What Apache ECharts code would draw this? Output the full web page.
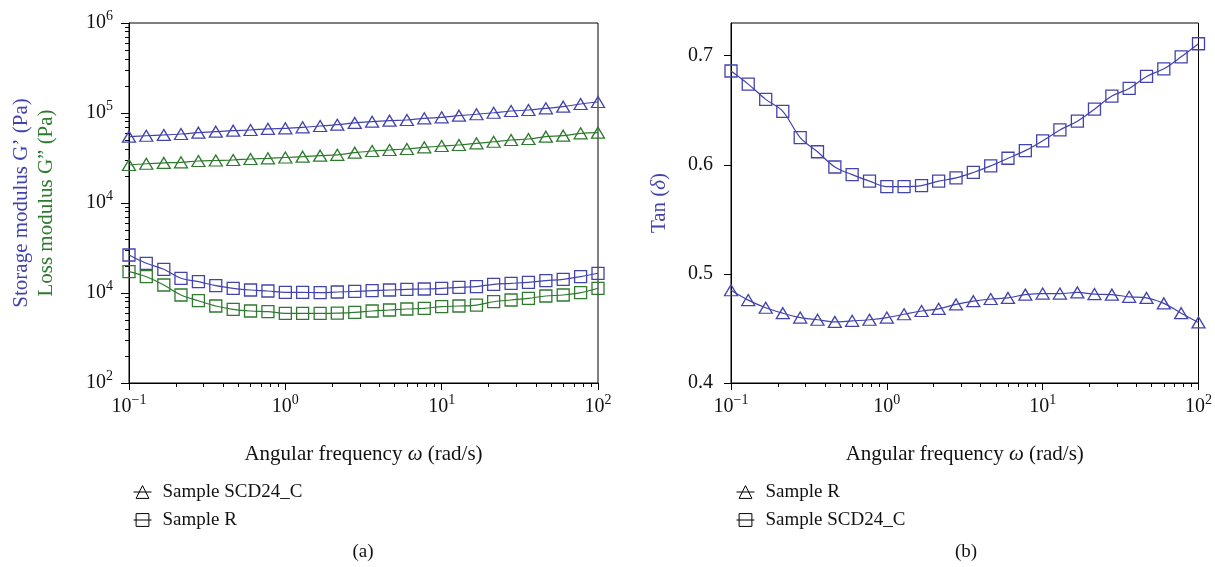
<!DOCTYPE html>
<html>
<head>
<meta charset="utf-8">
<script src="https://cdn.jsdelivr.net/npm/echarts@6/dist/echarts.min.js"></script>
<style>
  html, body { margin: 0; padding: 0; background: #fff; }
  #chart { width: 1215px; height: 567px; }
</style>
</head>
<body>
<div id="chart"></div>
<script>
// Angular frequency sweep (rad/s), 9 points per decade
const freq = [0.1, 0.129, 0.167, 0.215, 0.278, 0.359, 0.464, 0.599, 0.774,
              1.0, 1.29, 1.67, 2.15, 2.78, 3.59, 4.64, 5.99, 7.74,
              10, 12.9, 16.7, 21.5, 27.8, 35.9, 46.4, 59.9, 77.4, 100];

// (a) moduli, Pa
const storageSCD = [54600, 55900, 57000, 58400, 60400, 62000, 63600, 64700, 66700, 67600,
                    69300, 71700, 74100, 77600, 80000, 82100, 83600, 87300, 89600, 93300,
                    96800, 100700, 105200, 108000, 112700, 117500, 125900, 132500];
const lossSCD = [26450, 27280, 27900, 28330, 29290, 29680, 30060, 30840, 31390, 32040,
                 32700, 33550, 34340, 36220, 37840, 38810, 39810, 41570, 42970, 44080,
                 46000, 47950, 50120, 51400, 54550, 55950, 59440, 60400];
const storageR = [2645, 2138, 1834, 1457, 1336, 1205, 1128, 1080, 1053, 1018,
                  1018, 1008, 1026, 1040, 1061, 1080, 1099, 1108, 1128, 1157,
                  1175, 1250, 1282, 1315, 1370, 1420, 1517, 1656];
const lossR = [1725, 1517, 1227, 950, 821, 717, 659, 631, 620, 595,
               595, 595, 599, 610, 631, 647, 664, 676, 705, 717,
               735, 800, 836, 873, 926, 950, 1008, 1128];

// (b) loss factor tan(delta)
const tanR = [0.485, 0.476, 0.469, 0.464, 0.460, 0.458, 0.456, 0.457, 0.458, 0.460,
              0.463, 0.466, 0.468, 0.472, 0.475, 0.477, 0.478, 0.481, 0.482, 0.482,
              0.483, 0.4815, 0.481, 0.479, 0.478, 0.473, 0.464, 0.4555];
const tanSCD = [0.686, 0.674, 0.660, 0.649, 0.625, 0.612, 0.598, 0.591, 0.585, 0.580,
                0.580, 0.581, 0.585, 0.588, 0.593, 0.599, 0.606, 0.613, 0.622, 0.632,
                0.640, 0.651, 0.663, 0.670, 0.681, 0.688, 0.699, 0.711];

// Tick label exponents (base 10)
const xTickExp = ['\u22121', '0', '1', '2'];
const yTickExpA = ['2', '4', '4', '5', '6'];
const yTicksB = ['0.4', '0.5', '0.6', '0.7'];

// Legend entries: series id -> displayed text
const legendText = {
  'scd-a': 'Sample SCD24_C',
  'r-a': 'Sample R',
  'r-b': 'Sample R',
  'scd-b': 'Sample SCD24_C'
};

const BLUE = '#4343ad';
const GREEN = '#2e7a2e';
const FONT = 'Liberation Serif';

const pairs = (xs, ys) => xs.map((x, i) => [x, ys[i]]);

// minor ticks at 2..9 × 10^d, expressed as exponents on a linear overlay axis
function logMinorTicks(lo, hi) {
  const out = [];
  for (let d = lo; d < hi; d++) {
    for (let m = 2; m <= 9; m++) out.push(d + Math.log10(m));
  }
  return out;
}

const powRich = {
  n: { fontFamily: FONT, fontSize: 20, color: '#111' },
  s: { fontFamily: FONT, fontSize: 14, color: '#111', padding: [0, 0, 13, 0] }
};

function logXAxis(grid) {
  return {
    type: 'log', logBase: 10, gridIndex: grid, min: 0.1, max: 100,
    name: 'Angular frequency {i|\u03c9} (rad/s)',
    nameLocation: 'middle', nameGap: 61,
    nameTextStyle: {
      fontFamily: FONT, fontSize: 21, color: '#111',
      rich: { i: { fontFamily: FONT, fontSize: 21, fontStyle: 'italic', color: '#111' } }
    },
    axisLine: { show: true, onZero: false, lineStyle: { color: '#000', width: 1 } },
    axisTick: { show: true, inside: false, length: 7, lineStyle: { color: '#000', width: 1 } },
    axisLabel: {
      margin: 10,
      formatter: (v, i) => '{n|10}{s|' + xTickExp[i] + '}',
      rich: powRich
    },
    splitLine: { show: false },
    minorTick: { show: false }
  };
}

function minorXAxis(grid) {
  return {
    type: 'value', gridIndex: grid, min: -1, max: 2, position: 'bottom',
    axisLine: { show: false, onZero: false },
    axisLabel: { show: false },
    splitLine: { show: false },
    axisTick: { show: true, inside: false, length: 4, customValues: logMinorTicks(-1, 2),
                lineStyle: { color: '#000', width: 1 } }
  };
}

const symbolStyle = (color) => ({ color: 'rgba(0,0,0,0)', borderColor: color, borderWidth: 1.3 });

function curve(name, xi, yi, data, symbol, color) {
  return {
    name: name, type: 'line', xAxisIndex: xi, yAxisIndex: yi,
    data: data, smooth: 0.35,
    symbol: symbol,
    symbolSize: symbol === 'triangle' ? [13, 11] : 12,
    showAllSymbol: true,
    lineStyle: { color: color, width: 1.2 },
    itemStyle: symbolStyle(color),
    emphasis: { disabled: true },
    z: 3
  };
}

const legendBase = {
  orient: 'vertical',
  itemWidth: 18, itemHeight: 16, itemGap: 8,
  formatter: (name) => legendText[name],
  textStyle: { fontFamily: FONT, fontSize: 19, color: '#111', lineHeight: 20, padding: [0, 0, 0, 6] },
  itemStyle: { color: 'rgba(0,0,0,0)', borderColor: '#000', borderWidth: 1 },
  lineStyle: { color: '#000', width: 1 },
  selectedMode: false
};

const chart = echarts.init(document.getElementById('chart'), null, { renderer: 'canvas' });

chart.setOption({
  animation: false,
  backgroundColor: '#fff',
  grid: [
    { left: 129, top: 23, width: 469, height: 360, show: true, borderColor: '#000', borderWidth: 1, backgroundColor: 'transparent' },
    { left: 731, top: 23, width: 469, height: 360, show: true, borderColor: '#000', borderWidth: 1, backgroundColor: 'transparent' }
  ],
  xAxis: [logXAxis(0), minorXAxis(0), logXAxis(1), minorXAxis(1)],
  yAxis: [
    {
      type: 'log', logBase: 10, gridIndex: 0, min: 100, max: 1e6,
      name: '{a|Storage modulus G\u2019 (Pa)}\n{b|Loss modulus G\u201d (Pa)}',
      nameLocation: 'middle', nameGap: 70, nameRotate: 90,
      nameTextStyle: {
        rich: {
          a: { fontFamily: FONT, fontSize: 21, color: BLUE, lineHeight: 25 },
          b: { fontFamily: FONT, fontSize: 21, color: GREEN, lineHeight: 25 }
        }
      },
      axisLine: { show: true, onZero: false, lineStyle: { color: '#000', width: 1 } },
      axisTick: { show: true, inside: false, length: 8, lineStyle: { color: '#000', width: 1 } },
      axisLabel: {
        margin: 16,
        formatter: (v, i) => '{n|10}{s|' + yTickExpA[i] + '}',
        rich: powRich
      },
      splitLine: { show: false }
    },
    {
      type: 'value', gridIndex: 0, min: 2, max: 6, position: 'left',
      axisLine: { show: false, onZero: false },
      axisLabel: { show: false },
      splitLine: { show: false },
      axisTick: { show: true, inside: false, length: 4, customValues: logMinorTicks(2, 6),
                  lineStyle: { color: '#000', width: 1 } }
    },
    {
      type: 'value', gridIndex: 1, min: 0.4, max: 0.73, interval: 0.1,
      name: '{t|Tan (}{i|\u03b4}{t|)}',
      nameLocation: 'middle', nameGap: 60, nameRotate: 90,
      nameTextStyle: {
        rich: {
          t: { fontFamily: FONT, fontSize: 21, color: BLUE, lineHeight: 24 },
          i: { fontFamily: FONT, fontSize: 21, color: BLUE, fontStyle: 'italic', lineHeight: 24 }
        }
      },
      axisLine: { show: true, onZero: false, lineStyle: { color: '#000', width: 1 } },
      axisTick: { show: true, inside: false, length: 7, lineStyle: { color: '#000', width: 1 } },
      axisLabel: {
        margin: 18, showMaxLabel: false,
        fontFamily: FONT, fontSize: 20, color: '#111',
        formatter: (v, i) => yTicksB[i] !== undefined ? yTicksB[i] : ''
      },
      splitLine: { show: false }
    }
  ],
  legend: [
    Object.assign({}, legendBase, { left: 128, top: 477, data: ['scd-a', 'r-a'] }),
    Object.assign({}, legendBase, { left: 731, top: 477, data: ['r-b', 'scd-b'] })
  ],
  series: [
    curve('scd-a', 0, 0, pairs(freq, storageSCD), 'triangle', BLUE),
    curve('scd-a', 0, 0, pairs(freq, lossSCD), 'triangle', GREEN),
    curve('r-a', 0, 0, pairs(freq, storageR), 'rect', BLUE),
    curve('r-a', 0, 0, pairs(freq, lossR), 'rect', GREEN),
    curve('r-b', 2, 2, pairs(freq, tanR), 'triangle', BLUE),
    curve('scd-b', 2, 2, pairs(freq, tanSCD), 'rect', BLUE)
  ],
  graphic: [
    { type: 'text', x: 363, y: 552, style: { text: '(a)', fontFamily: FONT, fontSize: 19, fill: '#111', align: 'center', verticalAlign: 'middle' } },
    { type: 'text', x: 966, y: 552, style: { text: '(b)', fontFamily: FONT, fontSize: 19, fill: '#111', align: 'center', verticalAlign: 'middle' } }
  ]
});
</script>
</body>
</html>
